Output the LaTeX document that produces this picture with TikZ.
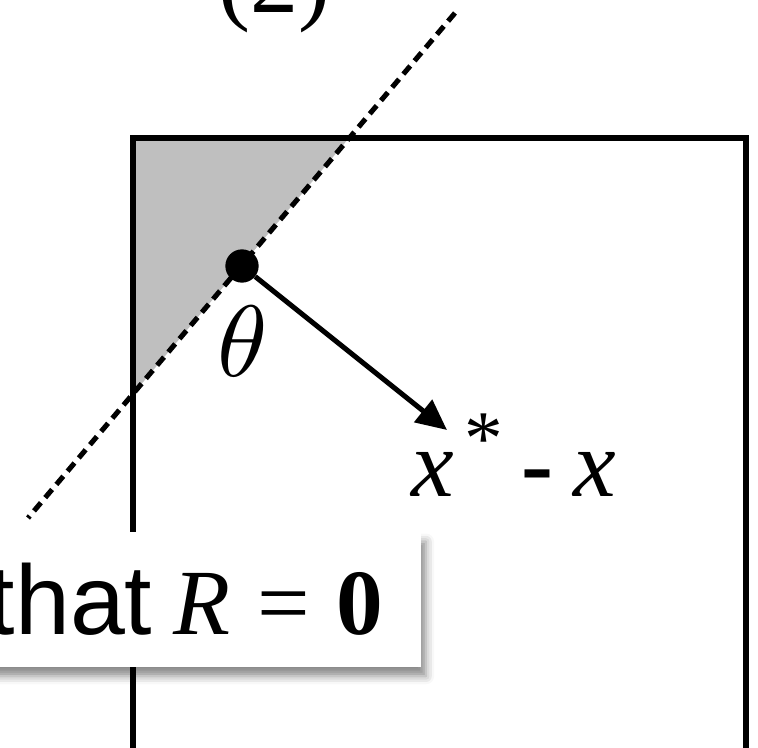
\documentclass[tikz,border=0pt]{standalone}
\usepackage{graphicx}
\usepackage{fontspec}
\newfontfamily\tnr{Liberation Serif}
\newfontfamily\hel{Liberation Sans}
\usetikzlibrary{arrows.meta, shadows.blur}
\definecolor{cutGray}{RGB}{191, 191, 191}
\tikzset{
  Frame/.style   = {line width=4.2pt},
  Cut/.style     = {line width=3.8pt, dash pattern=on 8pt off 5pt},
  Shade/.style   = {fill=cutGray},
  Pt/.style      = {circle, fill=black, minimum size=25pt, inner sep=0pt},
  Dir/.style     = {line width=3.8pt, -{Triangle[length=23pt, width=21pt]}},
  Big/.style     = {font=\fontsize{72}{80}\selectfont\tnr, inner sep=0pt},
  Callout/.style = {fill=white, text width=400pt, align=right, inner xsep=28pt,
                    minimum height=101pt, font=\fontsize{70}{80}\selectfont,
                    blur shadow={shadow xshift=4pt, shadow yshift=-7pt,
                                 shadow blur radius=6pt, shadow opacity=45}},
}
\newcommand{\px}{0.75pt}

\begin{document}
\begin{tikzpicture}[x=\px, y=-\px]
\useasboundingbox (0,0) rectangle (758,748);
\clip (0,0) rectangle (758,748);

% ---- region and its cut -------------------------------------------
\coordinate (tl)     at (133,138);
\coordinate (cutTop) at (455,13);
\coordinate (cutBot) at (28,518);
\fill[Shade] (tl) -- (349,138) -- (133,394) -- cycle;
\draw[Frame] (tl) rectangle (746,770);
\draw[Cut] (cutTop) -- (cutBot);

% ---- point and direction ------------------------------------------
\node[Pt] (theta0) at (242,266) {};
\node[inner sep=0pt] (thLab) at (243,341) {\scalebox{7.6}{$\theta$}};
\coordinate (tip) at (447,430);
\draw[Dir] (theta0) -- (tip);
\node[Big, anchor=base west] (diff) at (411,497)
  {\itshape x\hspace{8pt}\raisebox{24pt}{\fontsize{58}{58}\selectfont\upshape *}%
   \hspace{14pt}\upshape\bfseries -\hspace{15pt}\mdseries\itshape x};

% ---- title and callout --------------------------------------------
\node[Big, anchor=base] (ttl) at (274,13) {(2)};
\node[Callout, anchor=north east] (cond) at (421,532)
  {{\hel\fontsize{74}{80}\selectfont that}\hspace{16pt}{\tnr\itshape R}\hspace{20pt}{\tnr =}\hspace{20pt}{\tnr\bfseries 0}};

\end{tikzpicture}
\end{document}
